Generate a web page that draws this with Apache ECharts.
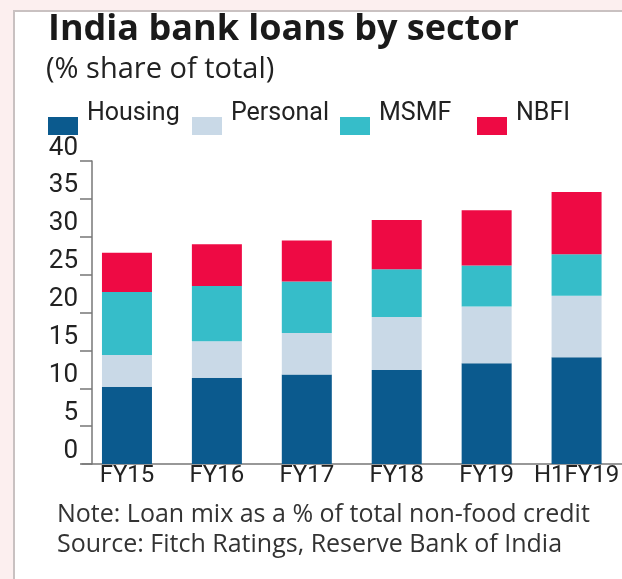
<!DOCTYPE html>
<html>
<head>
<meta charset="utf-8">
<script src="https://cdn.jsdelivr.net/npm/echarts@6/dist/echarts.min.js"></script>
<style>
  html, body { margin: 0; padding: 0; background: #fcefef; }
  #chart { width: 622px; height: 579px; }
</style>
</head>
<body>
<div id="chart"></div>
<script>
// data (% share of total non-food credit)
var categories = ['FY15', 'FY16', 'FY17', 'FY18', 'FY19', 'H1FY19']
var housing = [10.2, 11.4, 11.8, 12.4, 13.3, 14.1]
var personal = [4.2, 4.8, 5.5, 7.0, 7.5, 8.1]
var msmf = [8.3, 7.3, 6.8, 6.3, 5.4, 5.5]
var nbfi = [5.2, 5.5, 5.4, 6.5, 7.3, 8.2]
var seriesNames = ['Housing', 'Personal', 'MSMF', 'NBFI']
var colors = ['#0b5a8e', '#c9d9e7', '#36bdc9', '#ee0a44']

var chart = echarts.init(document.getElementById('chart'))

// one legend per item so each sits where it does in the original
var legendLeft = [48, 192, 340, 477]
var legends = seriesNames.map(function(name, i) {
  return {
    data: [name],
    left: legendLeft[i],
    top: 101,
    padding: 0,
    itemWidth: 30,
    itemHeight: 18,
    icon: 'rect',
    selectedMode: false,
    formatter: '{t|{name}}',
    textStyle: {
      rich: {
        t: {
          fontFamily: 'Roboto',
          fontSize: 25,
          color: '#222',
          padding: [0, 0, 25, 4] // lift the text above the swatch
        }
      }
    }
  }
})

var values = [housing, personal, msmf, nbfi]

chart.setOption({
  backgroundColor: '#fcefef',
  animation: false,
  graphic: [{
    type: 'rect',
    shape: { x: 14, y: 11, width: 640, height: 600 },
    style: { fill: '#fff', stroke: '#c9c1c1', lineWidth: 2 },
    z: -10
  }],
  title: [{
    text: 'India bank loans by sector',
    left: 48,
    top: 12,
    padding: 0,
    textStyle: { fontFamily: 'Open Sans', fontWeight: 'bold', fontSize: 36, color: '#1a1a1a' }
  }, {
    text: '(% share of total)',
    left: 46,
    top: 55,
    padding: 0,
    textStyle: { fontFamily: 'Open Sans', fontWeight: 'normal', fontSize: 29, color: '#222' }
  }, {
    text: 'Note: Loan mix as a % of total non-food credit\nSource: Fitch Ratings, Reserve Bank of India',
    left: 57,
    top: 500,
    padding: 0,
    textStyle: { fontFamily: 'Open Sans', fontWeight: 'normal', fontSize: 25, lineHeight: 30, color: '#333' }
  }],
  legend: legends,
  grid: {
    left: 82,
    width: 542,
    top: 161,
    bottom: 115
  },
  xAxis: {
    type: 'category',
    data: categories,
    axisLine: { lineStyle: { color: '#777', width: 1.5 } },
    axisTick: { show: false },
    axisLabel: {
      interval: 0,
      margin: 0,
      fontFamily: 'Roboto',
      fontSize: 24,
      color: '#222'
    }
  },
  yAxis: {
    type: 'value',
    min: 0,
    max: 40,
    interval: 5,
    offset: -10,
    splitLine: { show: false },
    axisLine: { show: true, lineStyle: { color: '#777', width: 1.5 } },
    axisTick: { show: true, length: 12, lineStyle: { color: '#777', width: 1.5 } },
    axisLabel: {
      margin: 14,
      verticalAlign: 'bottom',
      fontFamily: 'Roboto',
      fontSize: 26,
      color: '#222'
    }
  },
  series: seriesNames.map(function(name, i) {
    return {
      name: name,
      type: 'bar',
      stack: 'total',
      barWidth: 50,
      itemStyle: { color: colors[i] },
      data: values[i]
    }
  })
})
</script>
</body>
</html>
